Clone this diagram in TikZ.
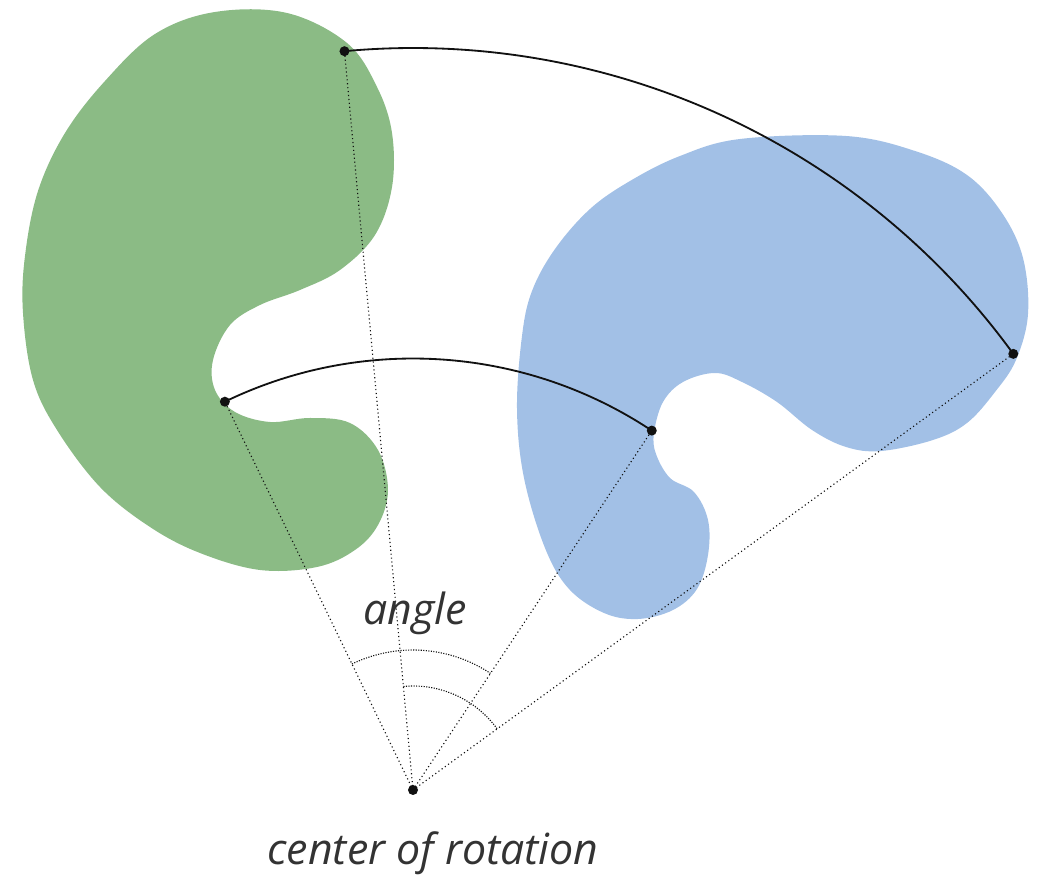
\documentclass[tikz,border=0pt]{standalone}
\usepackage{fontspec}
\setsansfont{Open Sans}
\usepackage{tikz}
\usetikzlibrary{calc}
\definecolor{ink}{HTML}{111111}
\definecolor{muted}{HTML}{333333}
\definecolor{leafgreen}{HTML}{8BBB85}
\definecolor{skyblue}{HTML}{A2C0E6}
\tikzset{
  blob/.style={draw=none},
  blobg/.style={blob, fill=leafgreen},
  blobb/.style={blob, fill=skyblue},
  %
  sweep/.style={draw=ink, line width=1.3pt},
  radial/.style={draw=ink, line width=0.8pt, dotted},
  anglemark/.style={draw=ink, line width=0.8pt, densely dotted},
  pin/.style={fill=ink, draw=none},
  %
  lbl/.style={font=\sffamily\itshape\fontsize{30.5}{36}\selectfont, text=muted, inner sep=2pt},
}
\begin{document}
\begin{tikzpicture}[x=0.025cm, y=0.025cm]

  \useasboundingbox (0,0) rectangle (1040,881);

  % --- shapes -------------------------------------------------------------
  \fill[blobg] plot[smooth cycle, tension=0.6] coordinates {
    (215,869) (287,868) (347,838) (377,794) (392,748) (392,694) (375,646)
    (340,611) (300,591) (260,576) (230,556) (213,521) (215,491) (235,469)
    (270,459) (310,463) (350,458) (378,431) (388,391) (378,356) (355,331)
    (317,314) (260,311) (200,328) (150,354) (100,394) (57,451) (33,501)
    (23,568) (25,625) (38,690) (65,748) (105,800) (155,847)};

  \fill[blobb] plot[smooth cycle, tension=0.6] coordinates {
    (522,545) (532,590) (555,632) (590,672) (630,700) (680,725) (740,742)
    (846,745) (915,730) (967,706) (1002,668) (1023,623) (1028,567) (1016,521)
    (995,489) (967,458) (933,441) (881,430) (846,434) (812,451) (777,479)
    (742,499) (715,508) (683,499) (663,479) (654,448) (656,427) (670,403)
    (694,389) (708,361) (708,326) (697,292) (673,271) (638,262) (604,268)
    (569,292) (545,333) (524,403) (517,472)};

  % --- points -------------------------------------------------------------
  \coordinate (ctr) at (413,91);
  \coordinate (gtop) at ($(ctr)+(95.3:742)$);
  \coordinate (bright) at ($(ctr)+(36.0:742)$);
  \coordinate (gin) at ($(ctr)+(115.85:431.5)$);
  \coordinate (bin) at ($(ctr)+(56.4:431.5)$);

  % --- radii and angle marks ----------------------------------------------
  \foreach \p in {gtop,bright,gin,bin} { \draw[radial] (ctr) -- (\p); }
  \draw[anglemark] ($(ctr)+(115.85:140)$) arc[start angle=115.85, end angle=56.4, radius=140];
  \draw[anglemark] ($(ctr)+(95.3:104)$) arc[start angle=95.3, end angle=36.0, radius=104];

  % --- sweeps -------------------------------------------------------------
  \draw[sweep] (gtop) arc[start angle=95.3, end angle=36.0, radius=742];
  \draw[sweep] (gin) arc[start angle=115.85, end angle=56.4, radius=431.5];

  \foreach \p in {ctr,gtop,bright,gin,bin} { \fill[pin] (\p) circle (5); }

  % --- labels -------------------------------------------------------------
  \node[lbl] (anglelbl) at (415,268) {angle};
  \node[lbl] (ctrlbl) at (433,28) {center of rotation};

\end{tikzpicture}
\end{document}
